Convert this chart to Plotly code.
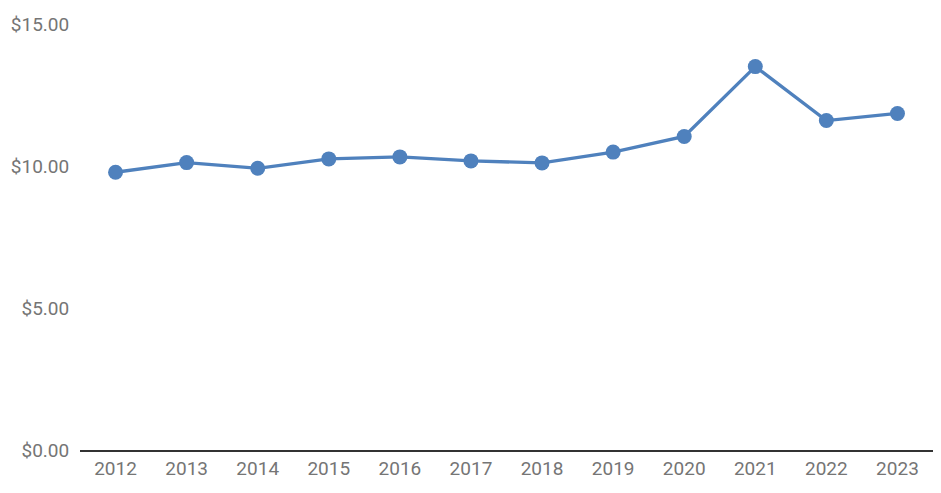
import plotly.graph_objects as go

years = ["2012", "2013", "2014", "2015", "2016", "2017", "2018", "2019", "2020", "2021", "2022", "2023"]
values = [9.78, 10.12, 9.92, 10.25, 10.32, 10.18, 10.11, 10.49, 11.04, 13.50, 11.60, 11.85]
y_ticks = [0, 5, 10, 15]
y_tick_labels = ["$0.00", "$5.00", "$10.00", "$15.00"]

color = "#4F81BD"

fig = go.Figure()
fig.add_trace(go.Scatter(
    x=years, y=values, mode="lines+markers",
    line=dict(color=color, width=3.3),
    marker=dict(color=color, size=15),
    cliponaxis=False,
))

fig.update_layout(
    width=941, height=493,
    margin=dict(l=72, r=16, t=16, b=51),
    plot_bgcolor="white", paper_bgcolor="white",
    showlegend=False,
    font=dict(family="Roboto", size=19, color="#757575"),
)
fig.update_xaxes(
    type="category", range=[-0.5, len(years) - 0.5],
    showgrid=False, zeroline=False, automargin=False,
    showline=True, linecolor="#333333", linewidth=2,
    ticks="", ticklen=0,
)
fig.update_yaxes(
    range=[0, 15], tickvals=y_ticks, ticktext=y_tick_labels, automargin=False,
    showgrid=False, zeroline=False, showline=False,
    ticks="outside", ticklen=6, tickcolor="white",
)

fig.write_html("out.html")
